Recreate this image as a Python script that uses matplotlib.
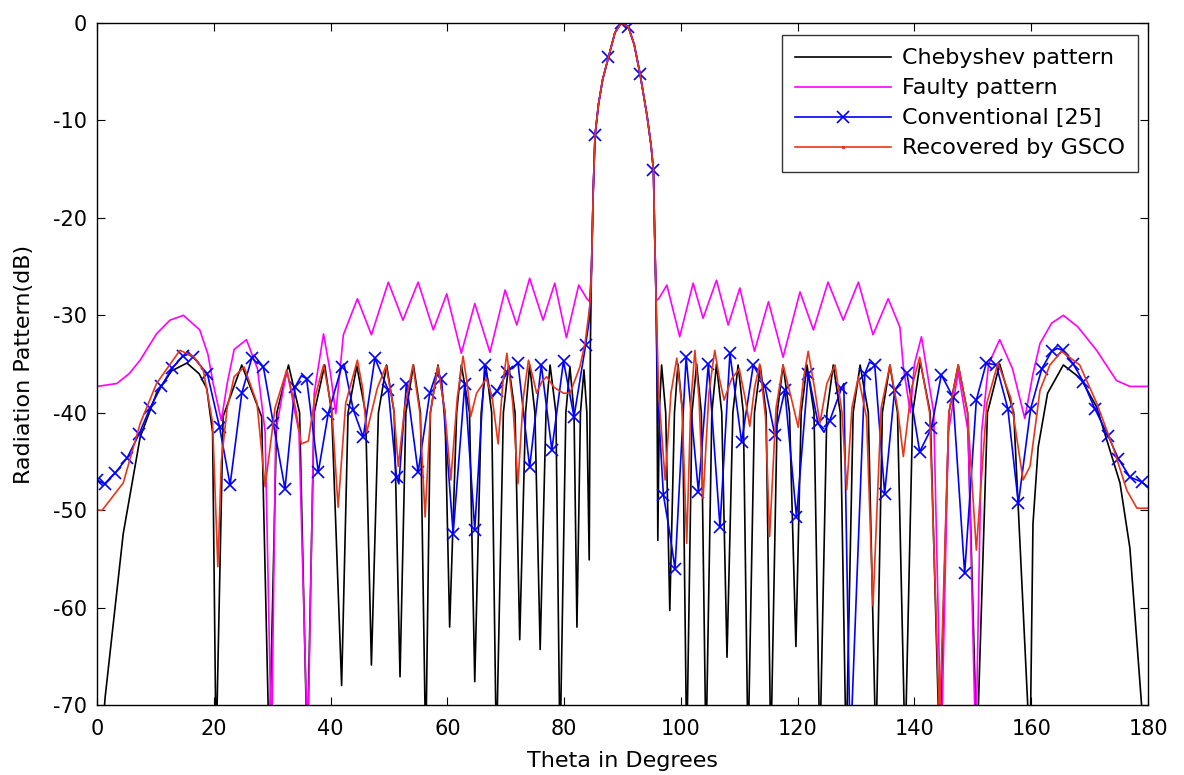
import numpy as np
import matplotlib
matplotlib.use("Agg")
import matplotlib.pyplot as plt
from matplotlib.lines import Line2D

# main lobe, common to all four patterns
main_theta = [84.7, 85.0, 85.3, 85.9, 86.6, 87.6, 88.7, 89.8, 91.0, 92.0, 93.0, 94.2, 94.9, 95.3, 95.5]
main_db = [-25.0, -17.0, -11.5, -8.3, -5.8, -3.5, -1.0, 0.0, -0.4, -2.2, -5.2, -9.5, -12.6, -15.1, -21.4]

# Chebyshev pattern (black)
cheb_left_theta = [0.0, 1.4, 4.5, 7.4, 10.2, 12.8, 15.4, 17.5, 18.8, 19.8, 20.4,
                   21.6, 24.8, 28.2, 29.5,
                   30.8, 32.8, 34.7, 36.0,
                   37.2, 39.0, 40.2, 41.9,
                   43.0, 44.5, 46.0, 47.0,
                   48.2, 49.6, 50.9, 51.9,
                   52.9, 54.2, 55.4, 56.3,
                   57.1, 58.4, 59.6, 60.4,
                   61.6, 62.4, 63.8, 64.7,
                   65.8, 66.6, 67.6, 68.4,
                   69.6, 70.5, 71.6, 72.4,
                   73.4, 74.1, 75.0, 75.9,
                   76.9, 77.6, 78.6, 79.3,
                   80.3, 81.0, 81.7, 82.2,
                   82.8, 83.4, 83.9, 84.3, 84.5]
cheb_left_db = [-80, -69.2, -52.4, -42.5, -38.0, -35.7, -34.9, -36.0, -37.5, -42.0, -75,
                -40.4, -35.1, -40.4, -75,
                -40, -35.1, -40, -75,
                -40, -35.1, -40, -68.0,
                -40, -35.2, -40, -65.9,
                -40, -35.1, -40, -67.1,
                -40, -35.1, -40, -75,
                -40, -35.1, -40, -62.0,
                -40, -35.1, -40, -67.6,
                -40, -35.2, -40, -75,
                -40, -35.1, -40, -63.3,
                -40, -35.1, -40, -64.3,
                -40, -35.1, -40, -75,
                -40, -35.3, -40, -62.0,
                -40, -35.6, -40, -55.1, -33.0]
cheb_right_theta = [95.75, 95.9, 96.05,
                    96.3, 96.7, 97.4, 98.1,
                    98.9, 99.5, 100.3, 101.0,
                    101.9, 102.7, 103.5, 104.3,
                    105.3, 106.1, 107.0, 107.9,
                    108.9, 109.8, 110.7, 111.5,
                    112.6, 113.6, 114.6, 115.4,
                    116.5, 117.5, 118.6, 119.7,
                    120.6, 121.6, 122.8, 123.8,
                    125.0, 126.1, 127.3, 128.3,
                    129.5, 130.7, 132.1, 133.4,
                    134.5, 135.8, 137.1, 138.4,
                    139.7, 141.0, 142.7, 144.3,
                    145.9, 147.5, 149.1, 150.7,
                    152.5, 154.6, 157.0, 159.8,
                    160.3, 161.2, 162.8, 165.5, 168.5, 171.2, 175.2, 176.9, 178.9, 180.0]
cheb_right_db = [-28.3, -36.0, -53.1,
                 -40, -35.1, -40, -60.3,
                 -40, -35.0, -40, -75,
                 -40, -35.0, -40, -75,
                 -40, -35.0, -40, -65.1,
                 -40, -35.1, -40, -75,
                 -40, -35.2, -40, -75,
                 -40, -35.1, -40, -64.0,
                 -40, -35.1, -40, -75,
                 -40, -35.1, -40, -75,
                 -40, -35.1, -40, -75,
                 -40, -35.1, -40, -75,
                 -40, -34.8, -40, -75,
                 -40, -35.1, -40, -75,
                 -40, -35.0, -40, -75,
                 -51.4, -43.5, -38.0, -35.1, -36.5, -39.4, -47.2, -53.9, -70.0, -80]

# faulty pattern (magenta)
faulty_left_theta = [0.0, 3.4, 5.5, 7.4, 10.2, 12.5, 14.8, 17.6, 19.0, 19.9, 21.3,
                     22.3, 23.5, 25.6, 27.5, 28.8, 29.9,
                     30.6, 32.5, 34.6, 36.1,
                     37.2, 38.8, 40.0, 40.9,
                     42.2, 44.6, 47.0, 49.9, 52.4, 55.0, 57.6, 59.9, 62.4, 64.7,
                     67.3, 69.9, 71.9, 74.1, 76.4, 78.4, 80.4, 82.5, 83.9, 84.4]
faulty_left_db = [-37.3, -37.0, -36.0, -34.6, -31.9, -30.5, -30.0, -31.5, -34.0, -37.0, -40.8,
                  -37.0, -33.5, -32.5, -35.5, -42.0, -75,
                  -42.0, -35.6, -42.0, -75,
                  -38.0, -31.9, -36.0, -40.1,
                  -32.0, -28.3, -32.0, -26.6, -30.5, -26.6, -31.5, -27.8, -33.9, -28.8,
                  -33.8, -27.4, -31.0, -26.2, -30.5, -26.7, -32.3, -26.9, -28.3, -28.6]
faulty_right_theta = [95.8, 96.2, 97.6, 99.8, 102.1, 103.8, 106.1, 108.1, 110.1, 112.6, 115.0,
                      117.5, 120.4, 122.7, 125.2, 127.8, 130.4, 132.9, 135.5, 137.5, 138.1,
                      139.3, 140.0, 141.2, 143.3, 144.6,
                      145.8, 147.5, 149.2, 150.5,
                      151.5, 152.7, 154.6, 156.8, 158.9, 160.3, 161.5, 163.5, 165.5,
                      168.0, 171.2, 174.6, 176.9, 180.0]
faulty_right_db = [-28.5, -28.3, -26.9, -32.2, -26.7, -30.3, -26.4, -31.0, -27.2, -33.7, -28.6,
                   -34.3, -27.6, -31.5, -26.6, -30.5, -26.6, -32.0, -28.3, -31.2, -35.3,
                   -40.0, -35.0, -32.2, -40.0, -75,
                   -42.0, -35.8, -42.0, -75,
                   -42.0, -35.0, -32.5, -35.5, -40.6, -36.0, -32.9, -30.8, -30.0,
                   -31.2, -33.6, -36.7, -37.3, -37.3]

# conventional [25] (blue): marker points and extra line vertices
conv_mark_theta = [0.0, 1.3, 3.1, 5.2, 7.2, 9.1, 11.0, 12.9, 14.7, 16.5, 18.9, 21.0, 22.8,
                   24.8, 26.5, 28.5, 30.2, 32.2, 33.9, 35.9, 37.9, 39.6, 41.9, 43.9,
                   45.6, 47.6, 49.9, 51.3, 53.0, 55.0, 57.0, 59.0, 61.0, 63.0, 64.7,
                   66.4, 68.5, 70.3, 72.1, 74.1, 76.1, 77.9, 79.9, 81.7, 83.7,
                   85.3, 87.6, 89.7, 91.0, 93.0, 95.3, 97.0, 99.0, 100.9, 103.0,
                   104.7, 106.7, 108.4, 110.4, 112.4, 114.4, 116.1, 117.8, 119.8,
                   121.8, 123.5, 125.5, 127.5, 131.5, 133.2, 134.9, 136.6, 138.7,
                   140.9, 142.9, 144.6, 146.6, 148.6, 150.6, 152.3, 154.0, 156.0,
                   157.8, 159.9, 161.8, 163.5, 165.4, 167.2, 168.9, 170.9, 173.2,
                   174.9, 176.9, 178.9]
conv_mark_db = [-46.9, -47.3, -46.2, -44.6, -42.2, -39.5, -37.3, -35.4, -34.2, -34.3, -36.0, -41.5, -47.4,
                -38.0, -34.4, -35.3, -41.1, -47.8, -37.4, -36.5, -46.1, -40.1, -35.3, -39.7,
                -42.5, -34.4, -37.7, -46.6, -37.0, -46.1, -38.0, -36.5, -52.4, -37.0, -52.0,
                -35.1, -37.8, -35.8, -34.9, -45.6, -35.1, -43.8, -34.7, -40.4, -33.0,
                -11.5, -3.5, 0.0, -0.4, -5.2, -15.1, -48.4, -56.0, -34.3, -48.1,
                -35.0, -51.7, -33.9, -43.0, -35.1, -37.3, -42.3, -37.7, -50.7,
                -36.0, -41.1, -40.8, -37.5, -36.0, -35.1, -48.3, -37.7, -35.9,
                -44.0, -41.6, -36.1, -38.4, -56.5, -38.7, -34.9, -35.1, -39.6,
                -49.3, -39.6, -35.5, -33.7, -33.6, -35.0, -36.8, -39.6, -42.4,
                -44.7, -46.6, -47.1]
conv_extra_theta = [15.6, 26.9, 35.0, 42.3, 51.7, 58.2, 67.6, 84.3, 95.75, 96.0, 98.0,
                    124.5, 127.9, 129.0, 132.3, 164.5, 180.0]
conv_extra_db = [-34.0, -34.1, -36.2, -35.0, -47.3, -35.8, -38.5, -30.5, -28.3, -38.0, -52.0,
                 -42.0, -37.0, -75.0, -34.8, -33.4, -47.6]

# recovered by GSCO (red)
gsco_left_theta = [0.0, 0.9, 4.5, 7.4, 10.2, 14.2, 16.5, 18.2, 19.8, 20.7,
                   21.3, 22.3, 23.5, 25.2, 27.4, 28.8,
                   30.5, 32.5, 34.0, 35.0, 36.2, 37.3, 38.8, 40.2, 41.3,
                   42.6, 44.6, 45.5, 46.2, 48.0, 49.5, 50.8, 51.6,
                   52.7, 54.1, 55.3, 56.2, 57.1, 58.4, 59.6, 60.6,
                   61.7, 62.7, 63.4, 64.0, 65.0, 66.7, 67.7, 68.7,
                   69.5, 70.2, 71.2, 72.1, 73.0, 73.9, 74.6, 75.3, 76.2, 77.0,
                   78.3, 79.9, 81.0, 82.7, 83.6, 84.2, 84.5]
gsco_left_db = [-50.0, -50.0, -47.2, -41.1, -37.0, -33.6, -34.2, -35.6, -41.0, -55.8,
                -45.0, -39.5, -36.3, -35.3, -39.0, -47.6,
                -39.5, -35.6, -39.5, -43.2, -42.9, -38.5, -35.1, -39.5, -49.7,
                -39.0, -34.6, -37.5, -42.0, -37.5, -35.2, -39.5, -45.5,
                -39.5, -35.1, -40.0, -50.7, -40.0, -35.2, -40.0, -46.9,
                -38.5, -34.2, -37.0, -40.4, -38.0, -36.5, -38.5, -43.2,
                -37.0, -33.9, -39.0, -47.3, -38.5, -34.6, -36.2, -38.0, -36.8, -36.3,
                -37.4, -38.0, -38.0, -35.3, -32.8, -30.0, -28.5]
gsco_right_theta = [95.75, 96.2, 97.3, 98.3, 99.3, 100.2, 101.0,
                    101.7, 102.4, 103.1, 103.8, 104.8, 105.8, 106.6, 107.4,
                    108.7, 110.0, 111.0, 111.8, 112.6, 113.5, 114.5, 115.2,
                    116.3, 117.5, 118.9, 120.1, 121.0, 121.8, 122.9, 123.8,
                    125.0, 126.4, 127.6, 128.4, 129.3, 130.4, 131.8, 132.9,
                    134.3, 135.8, 137.1, 138.1, 139.5, 140.9, 142.6, 144.3,
                    145.9, 147.5, 149.1, 150.6, 152.4, 154.3, 156.5, 158.6,
                    159.8, 161.5, 163.2, 165.2, 168.3, 171.2, 174.0, 176.4, 178.1, 180.0]
gsco_right_db = [-28.3, -38.0, -46.9, -38.0, -34.4, -39.5, -53.4,
                 -39.0, -33.6, -38.5, -48.8, -38.0, -33.6, -36.5, -38.7,
                 -36.5, -35.5, -38.5, -41.4, -37.5, -35.0, -40.5, -52.7,
                 -39.5, -35.1, -38.5, -41.5, -36.5, -33.7, -37.5, -41.1,
                 -37.0, -35.1, -40.0, -47.9, -39.5, -36.3, -40.5, -59.8,
                 -39.5, -35.1, -39.5, -44.5, -37.5, -34.3, -40.0, -72.0,
                 -40.0, -35.1, -40.0, -54.1, -39.0, -34.9, -38.5, -46.9,
                 -45.5, -37.7, -35.1, -33.7, -35.1, -39.0, -43.5, -48.0, -49.8, -49.8]

cheb_theta = cheb_left_theta + main_theta + cheb_right_theta
cheb_db = cheb_left_db + main_db + cheb_right_db
faulty_theta = faulty_left_theta + main_theta + faulty_right_theta
faulty_db = faulty_left_db + main_db + faulty_right_db
gsco_theta = gsco_left_theta + main_theta + gsco_right_theta
gsco_db = gsco_left_db + main_db + gsco_right_db

conv_theta = np.array(conv_mark_theta + conv_extra_theta + main_theta)
conv_db = np.array(conv_mark_db + conv_extra_db + main_db)
order = np.argsort(conv_theta, kind="stable")
conv_theta, conv_db = conv_theta[order], conv_db[order]

plt.rcParams['font.family'] = ['DejaVu Sans']
plt.rcParams['axes.unicode_minus'] = False

fig = plt.figure(figsize=(11.84, 7.75), dpi=100)
ax = fig.add_axes([0.0819, 0.0903, 0.8877, 0.88])

red = '#e8361b'
ax.plot(cheb_theta, cheb_db, color='black', lw=1.2)
ax.plot(faulty_theta, faulty_db, color='#ff00ff', lw=1.2)
ax.plot(conv_theta, conv_db, color='#0000ff', lw=1.2)
ax.plot(conv_mark_theta, conv_mark_db, ls='none', marker='x', ms=8, mew=1.2, color='#0000ff')
ax.plot(gsco_theta, gsco_db, color=red, lw=1.2)

ax.set_xlim(0, 180)
ax.set_ylim(-70, 0)
ax.set_xticks(range(0, 181, 20))
ax.set_yticks(range(-70, 1, 10))
ax.tick_params(direction='in', top=True, right=True, length=6, labelsize=15)
ax.tick_params(axis='x', pad=10)
ax.tick_params(axis='y', pad=7)
for s in ax.spines.values():
    s.set_linewidth(1.0)
ax.set_xlabel('Theta in Degrees', fontsize=16, labelpad=9)
ax.set_ylabel('Radiation Pattern(dB)', fontsize=16, labelpad=14)

handles = [
    Line2D([], [], color='black', lw=1.2),
    Line2D([], [], color='#ff00ff', lw=1.2),
    Line2D([], [], color='#0000ff', lw=1.2, marker='x', ms=8, mew=1.2),
    Line2D([], [], color=red, lw=1.2, marker='.', ms=3),
]
labels = ['Chebyshev pattern', 'Faulty pattern', 'Conventional [25]', 'Recovered by GSCO']
leg = ax.legend(handles, labels, loc='upper right', bbox_to_anchor=(0.9905, 0.9824),
                borderaxespad=0, fontsize=16, frameon=True, fancybox=False,
                edgecolor='black', handlelength=4.3, labelspacing=0.45,
                borderpad=0.6, handletextpad=0.5)
leg.get_frame().set_linewidth(1.0)

fig.savefig('out.png', dpi=100)
